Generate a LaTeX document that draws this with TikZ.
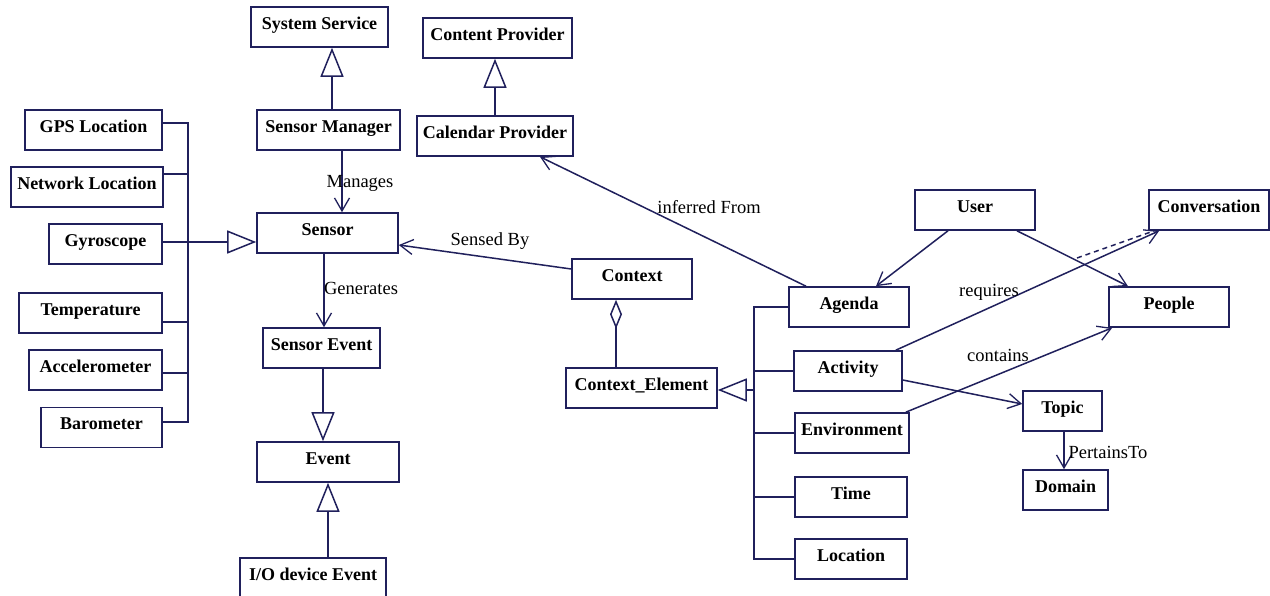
\documentclass[tikz,border=0pt]{standalone}
\usepackage{fontspec}
\setmainfont{Liberation Serif}
\usetikzlibrary{arrows.meta}
\definecolor{umlline}{RGB}{32,32,92}
\tikzset{
  box/.style={draw=umlline, line width=1.6pt, fill=white, inner sep=0pt,
    minimum height=40pt, text height=0.7em, text depth=0.25em,
    font=\bfseries\fontsize{18}{20}\selectfont},
  conn/.style={draw=umlline, line width=1.5pt},
  gen/.style={conn, -{Triangle[open, length=29pt, width=23pt, line width=1.5pt]}},
  nav/.style={conn, -{Straight Barb[length=13pt, width=15pt, line width=1.3pt]}},
  agg/.style={conn, {Diamond[open, length=29pt, width=12pt, line width=1.5pt]}-},
  lbl/.style={inner sep=0pt, font=\fontsize{18.5}{22}\selectfont},
}
\begin{document}
\begin{tikzpicture}[x=1pt, y=-1pt]
\clip (0,0) rectangle (1270,596);
\fill[white] (0,0) rectangle (1270,596);

% Android framework classes
\node[box, minimum width=137pt] (sysserv)  at (319.5,27)  {System Service};
\node[box, minimum width=149pt] (contprov) at (497.5,38)  {Content Provider};
\node[box, minimum width=143pt] (sensmgr)  at (328.5,130) {Sensor Manager};
\node[box, minimum width=156pt] (calprov)  at (495,136)   {Calendar Provider};
\node[box, minimum width=141pt] (sensor)   at (327.5,233) {Sensor};
\node[box, minimum width=117pt] (sensev)   at (321.5,348) {Sensor Event};
\node[box, minimum width=142pt] (event)    at (328,462)   {Event};
\node[box, minimum width=146pt, anchor=north] (ioev) at (313,557) {I/O device Event};

% Sensor kinds
\node[box, minimum width=137pt] (gps)    at (93.5,130)  {GPS Location};
\node[box, minimum width=152pt] (netloc) at (87,187)    {Network Location};
\node[box, minimum width=113pt] (gyro)   at (105.5,244) {Gyroscope};
\node[box, minimum width=143pt] (temp)   at (90.5,313)  {Temperature};
\node[box, minimum width=133pt] (accel)  at (95.5,370)  {Accelerometer};
\node[box, minimum width=121pt] (baro)   at (101.5,427.5) {Barometer};

% Context model
\node[box, minimum width=120pt] (context)  at (632,279)   {Context};
\node[box, minimum width=151pt] (ctxel)    at (641.5,388) {Context\_Element};
\node[box, minimum width=120pt] (agenda)   at (849,307)   {Agenda};
\node[box, minimum width=108pt] (activity) at (848,371)   {Activity};
\node[box, minimum width=114pt] (env)      at (852,433)   {Environment};
\node[box, minimum width=112pt] (time)     at (851,497)   {Time};
\node[box, minimum width=112pt] (location) at (851,559)   {Location};
\node[box, minimum width=120pt] (user)     at (975,210)   {User};
\node[box, minimum width=120pt] (conv)     at (1209,210)  {Conversation};
\node[box, minimum width=120pt] (people)   at (1169,307)  {People};
\node[box, minimum width=79pt]  (topic)    at (1062.5,411) {Topic};
\node[box, minimum width=85pt]  (domain)   at (1065.5,490) {Domain};

% Sensor kinds generalise Sensor through a shared bus
\coordinate (sbus) at (188,242);
\coordinate (gpsp)  at ([yshift=7pt]gps.east);
\coordinate (netp)  at ([yshift=13pt]netloc.east);
\coordinate (gyrop) at ([yshift=2pt]gyro.east);
\coordinate (tempp) at ([yshift=-9pt]temp.east);
\coordinate (accp)  at ([yshift=-3pt]accel.east);
\coordinate (barp)  at ([yshift=5.5pt]baro.east);
\draw[conn] (gpsp) -| (sbus |- barp) -- (barp);
\foreach \p in {netp, tempp, accp}
  \draw[conn] (\p) -- (sbus |- \p);
\draw[gen] (gyrop) -- (sensor.west |- gyrop);

% Framework generalisations
\draw[gen] ([xshift=3.5pt]sensmgr.north) -- ([xshift=3.5pt]sensmgr.north |- sysserv.south);
\draw[gen] (calprov.north) -- (calprov.north |- contprov.south);
\draw[gen] ([xshift=1.5pt]sensev.south) -- ([xshift=1.5pt]sensev.south |- event.north);
\draw[gen] (event.south |- ioev.north) -- (event.south);

% Navigable associations
\draw[nav] ([xshift=13.5pt]sensmgr.south) -- ([xshift=13.5pt]sensmgr.south |- sensor.north);
\node[lbl] (lmanages) at (360,183) {Manages};
\draw[nav] ([xshift=-3.5pt]sensor.south) -- ([xshift=-3.5pt]sensor.south |- sensev.north);
\node[lbl] (lgenerates) at (361,288) {Generates};
\draw[nav] ([yshift=10pt]context.west) -- ([yshift=-12pt]sensor.east);
\node[lbl] (lsensed) at (490,241) {Sensed By};
\draw[agg] ([xshift=-16pt]context.south) -- ([xshift=-16pt]context.south |- ctxel.north);
\draw[nav] ([xshift=-43pt]agenda.north) -- ([xshift=45pt]calprov.south);
\node[lbl] (linferred) at (709,207) {inferred From};

% Context elements generalise Context_Element
\coordinate (cbus) at (754,390);
\draw[conn] (agenda.west) -| (cbus |- location.west) -- (location.west);
\foreach \n in {activity, env, time}
  \draw[conn] (\n.west) -- (cbus |- \n.west);
\draw[gen, line width=2pt] (cbus) -- (ctxel.east |- cbus);

% Associations around the user
\draw[nav] ([xshift=-27pt]user.south) -- ([xshift=27pt]agenda.north);
\draw[nav] ([xshift=42pt]user.south) -- ([xshift=-41pt]people.north);
\draw[nav] ([xshift=-7pt]activity.north east) -- ([xshift=11pt]conv.south west);
\node[lbl] (lrequires) at (989,292) {requires};
\coordinate (dashstart) at (1077,258);
\draw[conn, dash pattern=on 5pt off 4pt] (dashstart) -- ([xshift=6pt]conv.south west);
\draw[nav] ([xshift=-4pt]env.north east) -- ([xshift=4pt]people.south west);
\node[lbl] (lcontains) at (998,355) {contains};
\draw[nav] ([yshift=-9pt]activity.east) -- ([yshift=7pt]topic.west);
\draw[nav] ([xshift=1.5pt]topic.south) -- ([xshift=1.5pt]topic.south |- domain.north);
\node[lbl] (lpertains) at (1108,452) {PertainsTo};
\end{tikzpicture}
\end{document}
